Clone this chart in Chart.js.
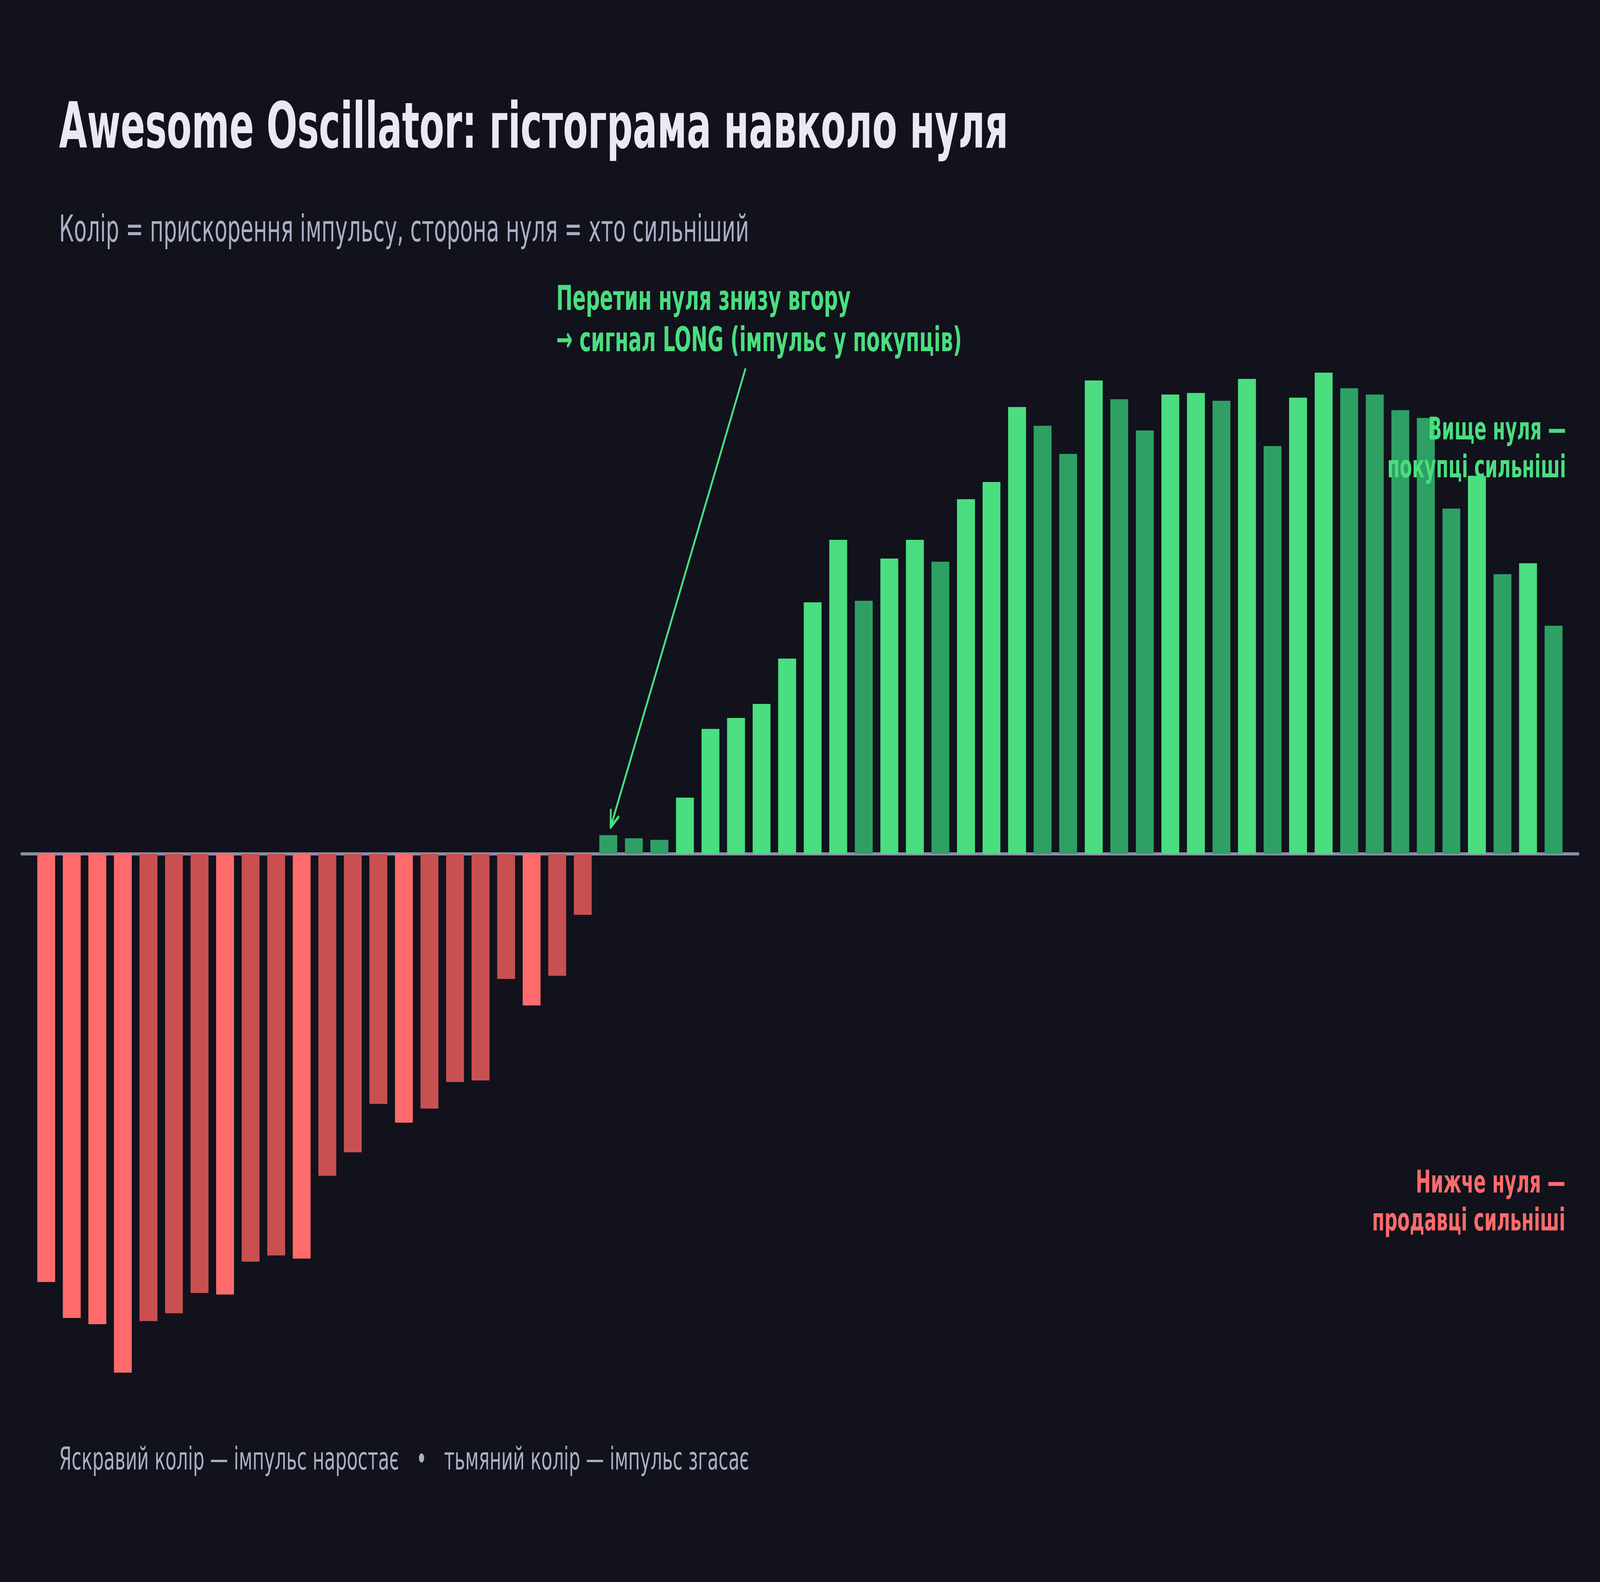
<!DOCTYPE html>
<html lang="uk">
<head>
<meta charset="utf-8">
<title>Awesome Oscillator</title>
<script src="https://cdn.jsdelivr.net/npm/chart.js@4.4.1/dist/chart.umd.min.js"></script>
<style>
  html, body { margin: 0; padding: 0; background: #11121c; overflow: hidden; }
  #wrap { position: relative; width: 7200px; height: 4050px; overflow: hidden; transform-origin: 0 0; }
  #wrap canvas { position: absolute; left: 0; top: 0; }
  .txt { position: absolute; font-family: "DejaVu Sans", sans-serif; white-space: pre; }
  #title { left: 266px; top: 240px; font-size: 163px; line-height: 1; font-weight: bold; color: #e8e9f2; }
  #subtitle { left: 266px; top: 539px; font-size: 94px; line-height: 1; color: #a9b0c6; }
  #footer { left: 266px; top: 3694px; font-size: 81px; line-height: 1; color: #a9b0c6; }
  #crossNote { left: 2503px; top: 710px; font-size: 88px; line-height: 1.2; font-weight: bold; color: #4ade80; }
  #aboveNote { right: 153px; top: 1049px; font-size: 81px; line-height: 1.2; font-weight: bold; color: #4ade80; text-align: right; }
  #belowNote { right: 156px; top: 2977px; font-size: 81px; line-height: 1.2; font-weight: bold; color: #ff6b6b; text-align: right; }
</style>
</head>
<body>
<div id="wrap">
  <canvas id="aoChart" width="7200" height="4050"></canvas>
  <div class="txt" id="title">Awesome Oscillator: гістограма навколо нуля</div>
  <div class="txt" id="subtitle">Колір = прискорення імпульсу, сторона нуля = хто сильніший</div>
  <div class="txt" id="crossNote">Перетин нуля знизу вгору
→ сигнал LONG (імпульс у покупців)</div>
  <div class="txt" id="aboveNote">Вище нуля —
покупці сильніші</div>
  <div class="txt" id="belowNote">Нижче нуля —
продавці сильніші</div>
  <div class="txt" id="footer">Яскравий колір — імпульс наростає   •   тьмяний колір — імпульс згасає</div>
</div>
<script>
// bar numbers
const bars = [
  "1", "2", "3", "4", "5", "6", "7", "8", "9", "10",
  "11", "12", "13", "14", "15", "16", "17", "18", "19", "20",
  "21", "22", "23", "24", "25", "26", "27", "28", "29", "30",
  "31", "32", "33", "34", "35", "36", "37", "38", "39", "40",
  "41", "42", "43", "44", "45", "46", "47", "48", "49", "50",
  "51", "52", "53", "54", "55", "56", "57", "58", "59", "60",
];

// AO value per bar
const aoValues = [
  -2.74, -2.97, -3.01, -3.32, -2.99, -2.94, -2.81, -2.82, -2.61, -2.57,
  -2.59, -2.06, -1.91, -1.60, -1.72, -1.63, -1.46, -1.45, -0.80, -0.97,
  -0.78, -0.39, 0.12, 0.10, 0.09, 0.36, 0.80, 0.87, 0.96, 1.25,
  1.61, 2.01, 1.62, 1.89, 2.01, 1.87, 2.27, 2.38, 2.86, 2.74,
  2.56, 3.03, 2.91, 2.71, 2.94, 2.95, 2.90, 3.04, 2.61, 2.92,
  3.08, 2.98, 2.94, 2.84, 2.79, 2.21, 2.42, 1.79, 1.86, 1.46,
];

// 1 = momentum growing (bright), 0 = fading (dim)
const momentumUp = [
  1, 1, 1, 1, 0, 0, 0, 1, 0, 0,
  1, 0, 0, 0, 1, 0, 0, 0, 0, 1,
  0, 0, 0, 0, 0, 1, 1, 1, 1, 1,
  1, 1, 0, 1, 1, 0, 1, 1, 1, 0,
  0, 1, 0, 0, 1, 1, 0, 1, 0, 1,
  1, 0, 0, 0, 0, 0, 1, 0, 1, 0,
];

const COLORS = {
  upBright: "#4ade80",
  upDim: "#2ea064",
  downBright: "#ff6b6b",
  downDim: "#c95050",
  zero: "#8b8fa8",
};

// one empty slot on each side of the bars
const labels = ["", ...bars, ""];
const values = [null, ...aoValues, null];
const flags = [0, ...momentumUp, 0];

// the layout is drawn at 7200x4050; squeeze it into whatever window we get
const wrap = document.getElementById("wrap");
const fitToWindow = () => {
  const sx = window.innerWidth / 7200;
  const sy = window.innerHeight / 4050;
  wrap.style.transform = `scale(${sx}, ${sy})`;
};
fitToWindow();
window.addEventListener("resize", fitToWindow);

// zero line under the bars
const zeroLinePlugin = {
  id: "zeroLine",
  beforeDatasetsDraw(chart) {
    const { ctx, chartArea, scales } = chart;
    const y = scales.y.getPixelForValue(0);
    ctx.save();
    ctx.strokeStyle = COLORS.zero;
    ctx.lineWidth = 8;
    ctx.beginPath();
    ctx.moveTo(chartArea.left, y);
    ctx.lineTo(chartArea.right, y);
    ctx.stroke();
    ctx.restore();
  },
};

// arrow from the note to the first bar above zero (x in slot units)
const crossArrowPlugin = {
  id: "crossArrow",
  afterDatasetsDraw(chart) {
    const { ctx, scales } = chart;
    const x0 = scales.x.getPixelForValue(28.36);
    const y0 = scales.y.getPixelForValue(3.10);
    const x1 = scales.x.getPixelForValue(23.09);
    const y1 = scales.y.getPixelForValue(0.17);
    const ang = Math.atan2(y0 - y1, x0 - x1);
    const head = 44;
    const spread = (26 * Math.PI) / 180;

    ctx.save();
    ctx.strokeStyle = COLORS.upBright;
    ctx.lineWidth = 8;
    ctx.lineCap = "round";
    ctx.lineJoin = "round";
    ctx.beginPath();
    ctx.moveTo(x0, y0);
    ctx.lineTo(x1, y1);
    ctx.moveTo(x1 + head * Math.cos(ang - spread), y1 + head * Math.sin(ang - spread));
    ctx.lineTo(x1, y1);
    ctx.lineTo(x1 + head * Math.cos(ang + spread), y1 + head * Math.sin(ang + spread));
    ctx.stroke();
    ctx.restore();
  },
};

new Chart(document.getElementById("aoChart"), {
  type: "bar",
  data: {
    labels: labels,
    datasets: [
      {
        data: values,
        backgroundColor: (c) => {
          const v = values[c.dataIndex];
          const up = flags[c.dataIndex] === 1;
          if (v >= 0) return up ? COLORS.upBright : COLORS.upDim;
          return up ? COLORS.downBright : COLORS.downDim;
        },
        borderWidth: 0,
        barPercentage: 0.7,
        categoryPercentage: 1,
      },
    ],
  },
  options: {
    responsive: false,
    devicePixelRatio: 1,
    animation: false,
    layout: {
      padding: { left: 93, right: 94, top: 786, bottom: 464 },
    },
    scales: {
      x: { type: "category", offset: false, display: false },
      y: { min: -3.5, max: 3.5, display: false },
    },
    plugins: {
      legend: { display: false },
      tooltip: { enabled: false },
      title: { display: false },
    },
  },
  plugins: [zeroLinePlugin, crossArrowPlugin],
});
</script>
</body>
</html>
